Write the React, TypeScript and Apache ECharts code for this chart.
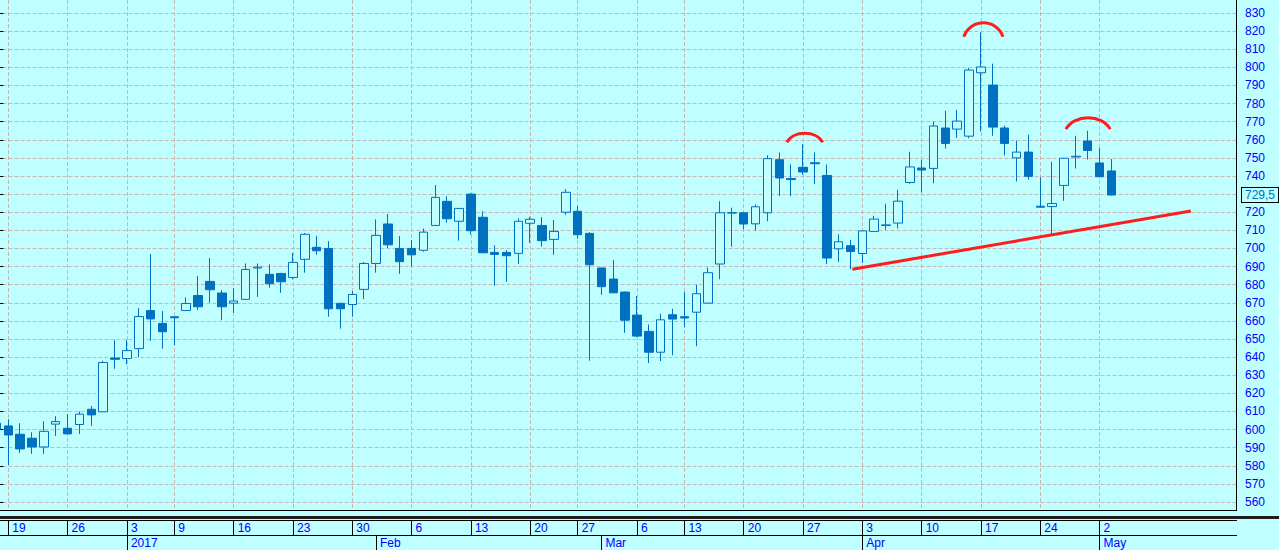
import React, { useEffect, useRef } from "react";
import * as echarts from "echarts";

// ---------- data ----------
const tradingDates: string[] = [
  "2016-12-16", "2016-12-19", "2016-12-20", "2016-12-21", "2016-12-22", "2016-12-23",
  "2016-12-26", "2016-12-27", "2016-12-28", "2016-12-29", "2016-12-30",
  "2017-01-03", "2017-01-04", "2017-01-05", "2017-01-06",
  "2017-01-09", "2017-01-10", "2017-01-11", "2017-01-12", "2017-01-13",
  "2017-01-16", "2017-01-17", "2017-01-18", "2017-01-19", "2017-01-20",
  "2017-01-23", "2017-01-24", "2017-01-25", "2017-01-26", "2017-01-27",
  "2017-01-30", "2017-01-31", "2017-02-01", "2017-02-02", "2017-02-03",
  "2017-02-06", "2017-02-07", "2017-02-08", "2017-02-09", "2017-02-10",
  "2017-02-13", "2017-02-14", "2017-02-15", "2017-02-16", "2017-02-17",
  "2017-02-20", "2017-02-21", "2017-02-22", "2017-02-24",
  "2017-02-27", "2017-02-28", "2017-03-01", "2017-03-02", "2017-03-03",
  "2017-03-06", "2017-03-07", "2017-03-09", "2017-03-10",
  "2017-03-13", "2017-03-14", "2017-03-15", "2017-03-16", "2017-03-17",
  "2017-03-20", "2017-03-21", "2017-03-22", "2017-03-23", "2017-03-24",
  "2017-03-27", "2017-03-28", "2017-03-29", "2017-03-30", "2017-03-31",
  "2017-04-03", "2017-04-04", "2017-04-05", "2017-04-06", "2017-04-07",
  "2017-04-10", "2017-04-11", "2017-04-12", "2017-04-13", "2017-04-14",
  "2017-04-17", "2017-04-18", "2017-04-19", "2017-04-20", "2017-04-21",
  "2017-04-24", "2017-04-25", "2017-04-26", "2017-04-27", "2017-04-28",
  "2017-05-02", "2017-05-03",
];

const opens: number[] = [
  603.5, 602, 597.4, 595.2, 590.4, 603, 600.7, 602.8, 611.2, 609.8,
  639.5, 639.2, 644.7, 665.7, 658.6, 662.3, 665.7, 674, 681.8, 675.4,
  669.8, 671.9, 689.2, 685.7, 686.2, 684, 694, 700.6, 700, 669.7,
  669, 677.4, 691.7, 713.5, 700, 700, 699, 712.7, 726, 715,
  730, 717.2, 697.8, 697.8, 697.3, 713.9, 712.7, 705, 720, 720.5,
  708.3, 689.2, 683.1, 675.9, 663.2, 654.2, 642.7, 663.4, 662.3, 664.8,
  669.8, 691.4, 719.5, 719.7, 713.6, 719.7, 749, 738.6, 744.8, 747.3,
  740.3, 699.8, 701.5, 697.2, 709.4, 712.7, 714, 736.4, 744.4, 744.2,
  766.5, 765.9, 762, 797, 790.2, 766.5, 750, 753.2, 723.3, 723.1,
  734.8, 750.5, 759.3, 747.2, 742.8,
];

const highs: number[] = [
  605, 605.7, 603.5, 598.5, 604.6, 607.4, 608.5, 610, 613, 638,
  649.4, 649.4, 667, 696.9, 665.4, 662.5, 673, 684.7, 694.7, 677,
  678, 691.7, 691.7, 691.2, 686.5, 697.5, 708.5, 707, 704, 670,
  676.5, 692.5, 716, 719, 706.9, 704.6, 711, 735, 728.8, 722.3,
  730.4, 720.5, 701.7, 699.1, 716.6, 717.5, 717.3, 715.7, 732.8, 723.4,
  709, 689.5, 693.6, 676.2, 673.7, 658, 664, 666.7, 676, 680,
  689.5, 726, 722.5, 719.9, 724.3, 751.4, 753, 746.4, 757.5, 753,
  746.4, 707.8, 704.8, 710, 718, 724.7, 732.4, 753.4, 749, 770,
  776, 776.6, 799.6, 819.3, 802, 767.8, 759.5, 762.8, 739.3, 747.9,
  750, 762.2, 765, 755.4, 749.4,
];

const lows: number[] = [
  598, 580.4, 587, 586.6, 586.6, 596.5, 597.4, 597.6, 602, 609.6,
  633.5, 636, 640, 649, 644.6, 646.6, 665.5, 666, 670, 660.4,
  664.5, 671.7, 673.3, 678.3, 675.5, 683, 686.6, 696.5, 662.3, 655.7,
  662.3, 672, 686.6, 700.2, 686, 690, 698.2, 712.5, 714.2, 704.3,
  707.6, 697.4, 679.4, 681.6, 691.4, 703.2, 701, 696.5, 718.6, 705.4,
  638, 674.4, 675.3, 653.4, 651, 636.7, 637.8, 641, 656.6, 646,
  669.6, 683, 701, 710.5, 709.8, 715, 729, 728.9, 740.7, 735.6,
  691.4, 692.5, 688.6, 692, 709.2, 710.3, 711, 735.7, 731, 736,
  755.2, 761, 760.8, 764.6, 762.2, 751.4, 737, 738, 722.5, 708,
  726.3, 744.1, 749.1, 739.4, 729.3,
];

const closes: number[] = [
  600, 597, 589.3, 590.4, 599, 604.4, 597.6, 608.5, 608.1, 637,
  638.8, 643.6, 662.4, 661.1, 654, 661.7, 669.6, 667.8, 677.2, 667.8,
  671, 688.4, 689.7, 680.5, 681.6, 692.3, 707.8, 698.7, 666.7, 666.7,
  674.6, 691.7, 707.2, 702, 692.7, 696.5, 709, 728.2, 716.4, 722.1,
  709.8, 697.6, 696.7, 696, 715, 716.1, 704.3, 709.4, 731, 707.6,
  691, 678.9, 675.5, 660.4, 651.6, 642.7, 660.6, 661, 661.6, 675,
  686.6, 719.7, 719.8, 713.5, 723, 749.6, 738.9, 738, 742.2, 746.8,
  694.7, 703.7, 698.3, 709.7, 716.2, 713, 726.1, 745, 743.3, 767.6,
  758, 770.3, 798.5, 800.2, 767, 758, 753.2, 739.8, 722.8, 724.8,
  749.8, 750.9, 754.1, 739.6, 729.5,
];

// empty trading slots to the right of the last bar
const futureSlots = 10;

// y axis
const yMin = 560;
const yMax = 830;
const yStep = 10;

// annotations, in [slot position, price]
const trendLine: number[][] = [
  [72.16, 688.5],
  [100.69, 720.7],
];
// [start slot, end slot, base price, peak price]
const arcs: number[][] = [
  [66.63, 69.66, 758.6, 763.6],
  [81.55, 84.86, 816.9, 824.6],
  [90.17, 93.89, 765.9, 772.2],
];

const monthNames = ["Jan", "Feb", "Mar", "Apr", "May", "Jun", "Jul", "Aug", "Sep", "Oct", "Nov", "Dec"];

// ---------- styles ----------
const BG = "#c0ffff";
const CANDLE = "#0070c0";
const GRIDLINE = "#c6b8b8";
const LABEL = "#0000ff";
const RED = "#ff1c1c";
const FONT = "'Liberation Sans', Arial, sans-serif";

// ---------- layout ----------
const W = 1279;
const H = 550;
const PLOT_RIGHT = 1236;
const FIRST_CENTER = -3.56;
const PLOT_BOTTOM = 510;
const Y_TOP = 13;
const Y_BOTTOM = 502;

function buildOption() {
  const N = tradingDates.length + futureSlots;
  const band = (PLOT_RIGHT - FIRST_CENTER) / (N - 0.5);
  const categories = [
    ...tradingDates,
    ...Array.from({ length: futureSlots }, (_, i) => "blank" + (i + 1)),
  ];
  const parse = (s: string) => new Date(s + "T00:00:00Z");
  const isWeekStart = categories.map((c, i) => {
    if (i === 0 || i >= tradingDates.length) return false;
    const d = parse(c);
    const p = parse(categories[i - 1]);
    return d.getUTCDay() < p.getUTCDay() || d.getTime() - p.getTime() >= 7 * 86400000;
  });
  const isMonthStart = categories.map((c, i) => {
    if (i === 0 || i >= tradingDates.length) return false;
    return c.slice(0, 7) !== categories[i - 1].slice(0, 7);
  });
  const candleData = tradingDates.map((_, i) => [opens[i], closes[i], lows[i], highs[i]]);
  const lastClose = closes[closes.length - 1];

  const gridA = {
    left: FIRST_CENTER - band / 2,
    top: Y_TOP,
    width: N * band,
    height: Y_BOTTOM - Y_TOP,
    containLabel: false,
    outerBoundsMode: "none",
  };
  const gridB = {
    left: FIRST_CENTER,
    top: 0,
    width: (N - 1) * band,
    height: PLOT_BOTTOM,
    containLabel: false,
    outerBoundsMode: "none",
  };

  const labelText = {
    color: LABEL,
    fontFamily: FONT,
    fontSize: 12,
    lineHeight: 14,
  };

  const hline = (y: number, x1: number, x2: number) => ({
    type: "line",
    silent: true,
    shape: { x1, y1: y, x2, y2: y },
    style: { stroke: "#000", lineWidth: 1 },
  });

  return {
    animation: false,
    backgroundColor: BG,
    grid: [gridA, gridB],
    xAxis: [
      {
        // candles
        type: "category",
        gridIndex: 0,
        data: categories,
        boundaryGap: true,
        show: false,
      },
      {
        // continuous slot axis for annotations
        type: "value",
        gridIndex: 0,
        min: -0.5,
        max: N - 0.5,
        show: false,
      },
      {
        // vertical dashed grid at week starts
        type: "category",
        gridIndex: 1,
        data: categories,
        boundaryGap: false,
        axisLine: { show: false },
        axisTick: { show: false },
        axisLabel: { show: false },
        splitLine: {
          show: true,
          interval: (i: number) => isWeekStart[i],
          lineStyle: { color: GRIDLINE, type: [4, 2], width: 1 },
        },
      },
      {
        // day strip
        type: "category",
        gridIndex: 1,
        data: categories,
        boundaryGap: false,
        position: "bottom",
        offset: 10,
        axisLine: { show: false },
        axisTick: {
          show: true,
          length: 15,
          interval: (i: number) => isWeekStart[i],
          lineStyle: { color: "#000", width: 1 },
        },
        axisLabel: {
          show: true,
          interval: (i: number) => isWeekStart[i],
          formatter: (v: string) => String(Number(v.slice(8, 10))),
          align: "left",
          margin: 1,
          padding: [0, 0, 0, 4],
          ...labelText,
        },
        splitLine: { show: false },
      },
      {
        // month strip
        type: "category",
        gridIndex: 1,
        data: categories,
        boundaryGap: false,
        position: "bottom",
        offset: 25,
        axisLine: { show: false },
        axisTick: {
          show: true,
          length: 15,
          interval: (i: number) => isMonthStart[i],
          lineStyle: { color: "#000", width: 1 },
        },
        axisLabel: {
          show: true,
          interval: (i: number) => isMonthStart[i],
          formatter: (v: string) => {
            const m = Number(v.slice(5, 7));
            return m === 1 ? v.slice(0, 4) : monthNames[m - 1];
          },
          align: "left",
          margin: 1,
          padding: [0, 0, 0, 4],
          ...labelText,
        },
        splitLine: { show: false },
      },
    ],
    yAxis: [
      {
        type: "value",
        gridIndex: 0,
        position: "right",
        min: yMin,
        max: yMax,
        interval: yStep,
        axisLine: { show: false },
        axisTick: { show: true, length: 7, lineStyle: { color: "#000", width: 1 } },
        minorTick: { show: true, splitNumber: 2, length: 3, lineStyle: { color: "#000", width: 1 } },
        axisLabel: {
          show: true,
          margin: 9,
          formatter: (v: number) => (v === 730 ? "" : String(v)),
          ...labelText,
          lineHeight: 13,
        },
        splitLine: { show: true, lineStyle: { color: GRIDLINE, type: [4, 2], width: 1 } },
      },
      {
        type: "value",
        gridIndex: 1,
        min: 0,
        max: 1,
        show: false,
      },
    ],
    series: [
      {
        type: "candlestick",
        xAxisIndex: 0,
        yAxisIndex: 0,
        data: candleData,
        barWidth: 9,
        itemStyle: {
          color: BG,
          color0: CANDLE,
          borderColor: CANDLE,
          borderColor0: CANDLE,
          borderColorDoji: CANDLE,
          borderWidth: 1,
        },
      },
      {
        type: "line",
        xAxisIndex: 1,
        yAxisIndex: 0,
        data: trendLine,
        symbol: "none",
        silent: true,
        clip: false,
        lineStyle: { color: RED, width: 3 },
        z: 5,
        markLine: {
          silent: true,
          symbol: ["none", "none"],
          lineStyle: { color: "rgba(0,0,0,0)", width: 1, type: "solid" },
          label: {
            show: true,
            position: "end",
            distance: 6,
            formatter: () => lastClose.toFixed(1).replace(".", ","),
            color: CANDLE,
            fontFamily: FONT,
            fontSize: 12,
            lineHeight: 13,
            backgroundColor: BG,
            borderColor: "#000",
            borderWidth: 1,
            padding: [1, 3, 0, 3],
            opacity: 1,
          },
          emphasis: { disabled: true },
          data: [{ yAxis: lastClose }],
        },
      },
      {
        type: "custom",
        xAxisIndex: 1,
        yAxisIndex: 0,
        data: arcs,
        encode: { x: [0, 1], y: [2, 3] },
        silent: true,
        z: 5,
        renderItem: (_params: any, api: any) => {
          const x0 = api.value(0);
          const x1 = api.value(1);
          const base = api.value(2);
          const peak = api.value(3);
          const p0 = api.coord([x0, base]);
          const p1 = api.coord([x1, base]);
          const pk = api.coord([(x0 + x1) / 2, peak]);
          const h = pk[1] - p0[1];
          const w = p1[0] - p0[0];
          return {
            type: "bezierCurve",
            shape: {
              x1: p0[0],
              y1: p0[1],
              x2: p1[0],
              y2: p1[1],
              cpx1: p0[0] + w * 0.18,
              cpy1: p0[1] + (h * 4) / 3,
              cpx2: p1[0] - w * 0.18,
              cpy2: p1[1] + (h * 4) / 3,
            },
            style: { stroke: RED, lineWidth: 3, fill: "none" },
          };
        },
      },
    ],
    graphic: [
      {
        type: "line",
        silent: true,
        shape: { x1: PLOT_RIGHT + 0.5, y1: 0, x2: PLOT_RIGHT + 0.5, y2: PLOT_BOTTOM + 0.5 },
        style: { stroke: "#000", lineWidth: 1 },
      },
      hline(PLOT_BOTTOM + 0.5, 0, PLOT_RIGHT + 1),
      {
        type: "rect",
        silent: true,
        shape: { x: 0, y: 516, width: W, height: 3 },
        style: { fill: "#1e1e1e" },
      },
      hline(520.5, 0, PLOT_RIGHT + 1),
      hline(535.5, 0, PLOT_RIGHT + 1),
    ],
  };
}

export default function App() {
  const ref = useRef<HTMLDivElement>(null);
  useEffect(() => {
    if (!ref.current) return;
    const chart = echarts.init(ref.current, null, { renderer: "svg" });
    chart.setOption(buildOption() as any);
    return () => chart.dispose();
  }, []);
  return (
    <div
      ref={ref}
      style={{ position: "fixed", left: 0, top: 0, width: W, height: H }}
    />
  );
}
